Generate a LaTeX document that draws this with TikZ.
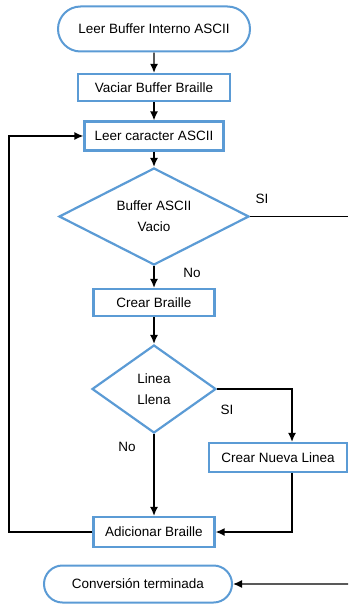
\documentclass[tikz,border=0pt]{standalone}
\usepackage{fontspec}
\setmainfont{Liberation Sans}
\usetikzlibrary{arrows.meta, shapes.geometric, shapes.misc}
\definecolor{boxblue}{RGB}{91,155,213}

\begin{document}
\begin{tikzpicture}[x=1pt, y=-1pt, font=\fontsize{13.5}{16}\selectfont]

\tikzset{proc/.style = {shape=rectangle, draw=boxblue, line width=2.2pt, fill=white, inner sep=0pt}}
\tikzset{term/.style = {shape=rounded rectangle, draw=boxblue, line width=2pt, fill=white, inner sep=0pt}}
\tikzset{decision/.style = {shape=diamond, aspect=2, draw=boxblue, line width=2.2pt, fill=white, inner sep=0pt, align=center}}
\tikzset{edge/.style = {-{Latex[length=9pt,width=8pt]}, line width=1.4pt}}
\tikzset{line/.style = {line width=1.4pt}}
\useasboundingbox (0,0) rectangle (348,604);
%verticies
\node[term, minimum width=192, minimum height=45] (start) at (154,29) {Leer Buffer Interno ASCII};
\node[proc, minimum width=152, minimum height=27] (vaciar) at (154,87.5) {Vaciar Buffer Braille};
\node[proc, minimum width=139, minimum height=29] (leer) at (154,136) {Leer caracter ASCII};
\node[decision, minimum width=190, minimum height=97] (vacio) at (154,216.5) {Buffer ASCII\\[5pt]Vacio};
\node[proc, minimum width=121, minimum height=27] (crear) at (154,302.5) {Crear Braille};
\node[decision, minimum width=124, minimum height=88] (llena) at (154,389) {Linea\\[5pt]Llena};
\node[proc, minimum width=138, minimum height=29] (nueva) at (278,457.5) {Crear Nueva Linea};
\node[proc, minimum width=121, minimum height=30] (adic) at (154,532) {Adicionar Braille};
\node[term, minimum width=188, minimum height=37] (fin) at (138,584) {Conversión terminada};
%labels
\node (si1) at (262,199) {SI};
\node (no1) at (192,273) {No};
\node (si2) at (227,410) {SI};
\node (no2) at (127,447) {No};
\coordinate (out1) at (348,216.5);
\coordinate (out2) at (348,584);
\coordinate (back) at (9,532);
%edges
\draw [edge] (start) -- (vaciar);
\draw [edge] (vaciar) -- (leer);
\draw [edge] (leer) -- (vacio);
\draw [edge] (vacio) -- (crear);
\draw [edge] (crear) -- (llena);
\draw [edge] (llena) -- (adic);
\draw [line] (vacio.east) -- (out1);
\draw [edge] (llena.east) -| ([xshift=14pt]nueva.north);
\draw [edge] ([xshift=14pt]nueva.south) |- (adic.east);
\draw [edge] (adic.west) -- (back) |- (leer.west);
\draw [edge] (out2) -- (fin);

\end{tikzpicture}
\end{document}
